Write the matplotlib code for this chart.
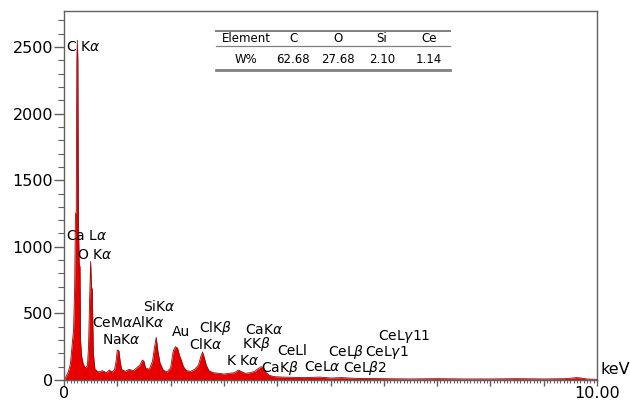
import numpy as np
import matplotlib
matplotlib.use("Agg")
import matplotlib.pyplot as plt
from matplotlib.ticker import MultipleLocator, FixedLocator, FixedFormatter

plt.rcParams['font.family'] = ['DejaVu Sans']

# EDS spectrum (keV, counts)
energy = [0.00, 0.03, 0.08, 0.12, 0.15, 0.18, 0.20, 0.215, 0.23, 0.24, 0.25, 0.26,
          0.27, 0.285, 0.30, 0.31, 0.33, 0.36, 0.40, 0.44, 0.46, 0.48, 0.50, 0.515,
          0.53, 0.55, 0.58, 0.65, 0.72, 0.80, 0.85, 0.90, 0.95, 0.98, 1.00, 1.03,
          1.05, 1.08, 1.15, 1.22, 1.30, 1.36, 1.42, 1.47, 1.50, 1.53, 1.60, 1.66,
          1.70, 1.73, 1.76, 1.80, 1.86, 1.93, 2.00, 2.05, 2.09, 2.13, 2.17, 2.20,
          2.24, 2.30, 2.38, 2.45, 2.52, 2.57, 2.60, 2.63, 2.67, 2.72, 2.80, 2.90,
          3.00, 3.10, 3.20, 3.27, 3.32, 3.40, 3.50, 3.58, 3.64, 3.70, 3.74, 3.78,
          3.85, 3.95, 4.10, 4.30, 4.50, 4.80, 5.00, 5.20, 5.50, 6.00, 6.50, 7.00,
          7.50, 8.00, 8.50, 9.00, 9.40, 9.62, 9.70, 9.80, 10.00]
counts = [0, 20, 60, 120, 250, 380, 700, 1250, 1260, 2400, 2550, 2400,
          1200, 870, 850, 300, 180, 120, 90, 110, 250, 600, 890, 700,
          680, 200, 80, 60, 70, 55, 75, 60, 80, 150, 225, 220,
          150, 80, 65, 80, 70, 90, 110, 150, 140, 90, 80, 140,
          250, 320, 220, 130, 75, 60, 90, 220, 250, 240, 180, 150,
          100, 70, 65, 80, 110, 180, 210, 170, 110, 70, 55, 50,
          45, 50, 55, 75, 65, 50, 55, 65, 85, 100, 95, 60,
          35, 25, 22, 20, 18, 22, 15, 18, 12, 10, 8, 10,
          8, 8, 10, 8, 10, 18, 15, 8, 5]

# peak labels
peak_labels = ['C K$\\alpha$', 'Ca L$\\alpha$', 'O K$\\alpha$', 'CeM$\\alpha$AlK$\\alpha$',
               'NaK$\\alpha$', 'SiK$\\alpha$', 'Au', 'ClK$\\beta$', 'ClK$\\alpha$',
               'CaK$\\alpha$', 'KK$\\beta$', 'K K$\\alpha$', 'CeLl', 'CaK$\\beta$',
               'CeL$\\alpha$', 'CeL$\\beta$', 'CeL$\\gamma$1', 'CeL$\\beta$2', 'CeL$\\gamma$11']
label_x = [0.04, 0.04, 0.24, 0.53, 0.71, 1.48, 2.03, 2.53, 2.35, 3.40, 3.34, 3.04,
           4.01, 3.70, 4.50, 4.95, 5.65, 5.23, 5.89]
label_y = [2502, 1082, 939, 428, 300, 548, 361, 391, 270, 376, 270, 143,
           218, 90, 98, 210, 210, 90, 323]

# composition table
elements = ['C', 'O', 'Si', 'Ce']
wt_pct = ['62.68', '27.68', '2.10', '1.14']

fig = plt.figure(figsize=(6.3, 4.0), dpi=100)
ax = fig.add_axes([64/630, 1-380/400, (597-64)/630, (380-11)/400])

ax.fill_between(energy, counts, 0, color='#e80000', lw=0)
ax.plot(energy, counts, color='#8f0e0e', lw=0.6)

ax.set_xlim(0, 10)
ax.set_ylim(0, 2770)

for s in ax.spines.values():
    s.set_color('#606060')
    s.set_linewidth(1.0)

ax.yaxis.set_major_locator(MultipleLocator(500))
ax.yaxis.set_minor_locator(MultipleLocator(100))
ax.tick_params(axis='y', which='major', direction='out', length=7, width=1,
               color='#606060', labelsize=11.5, pad=1)
ax.tick_params(axis='y', which='minor', direction='out', length=4.5, width=0.8,
               color='#606060')

xt = list(range(11))
ax.xaxis.set_major_locator(FixedLocator(xt))
ax.xaxis.set_major_formatter(FixedFormatter(['0'] + [''] * 9 + ['10.00']))
ax.xaxis.set_minor_locator(MultipleLocator(0.0625))
ax.tick_params(axis='x', which='major', direction='out', length=4.5, width=1,
               color='#606060', labelsize=11.5, pad=0)
ax.tick_params(axis='x', which='minor', direction='out', length=2.5, width=0.8,
               color='#606060')

for t, x, y in zip(peak_labels, label_x, label_y):
    ax.text(x, y, t, fontsize=10, ha='left', va='center')

fig.text(600/630, 1-370/400, 'keV', fontsize=11.5, ha='left', va='center')

# table
fx = lambda p: p / 630
fy = lambda p: 1 - p / 400
for yy, lw in [(31, 1.4), (45.5, 0.9), (69.5, 2.0)]:
    fig.add_artist(plt.Line2D([fx(216), fx(450)], [fy(yy), fy(yy)],
                              color='#808080', lw=lw))
col_x = [293, 338, 382, 429]
fig.text(fx(246), fy(38.5), 'Element', fontsize=8.5, ha='center', va='center')
fig.text(fx(246), fy(59.5), 'W%', fontsize=8.5, ha='center', va='center')
for cx, el, w in zip(col_x, elements, wt_pct):
    fig.text(fx(cx), fy(38.5), el, fontsize=8.5, ha='center', va='center')
    fig.text(fx(cx), fy(59.5), w, fontsize=8.5, ha='center', va='center')

fig.savefig('out.png', dpi=100)
